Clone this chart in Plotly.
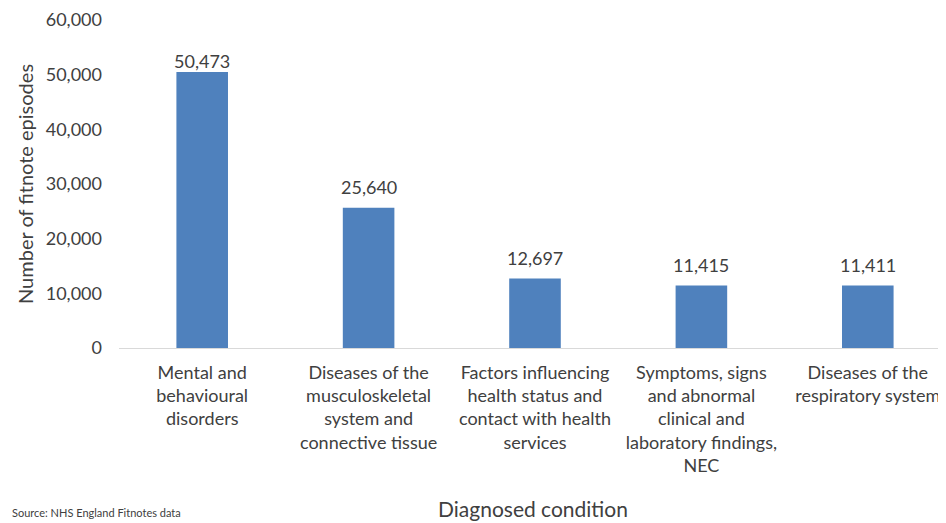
import plotly.graph_objects as go

categories = [
    "Mental and<br>behavioural<br>disorders",
    "Diseases of the<br>musculoskeletal<br>system and<br>connective tissue",
    "Factors influencing<br>health status and<br>contact with health<br>services",
    "Symptoms, signs<br>and abnormal<br>clinical and<br>laboratory findings,<br>NEC",
    "Diseases of the<br>respiratory system",
]
values = [50473, 25640, 12697, 11415, 11411]
tick_vals = [0, 10000, 20000, 30000, 40000, 50000, 60000]
tick_text = ["0", "10,000", "20,000", "30,000", "40,000", "50,000", "60,000"]
x_title = "Diagnosed condition"
y_title = "Number of fitnote episodes"
source = "Source: NHS England Fitnotes data"

FONT = "Lato"
TXT = "#404040"

# page body has an 8px margin, so the figure is offset by 8px
OFF = 8
L, R, T, B = 111, 0, 12, 175
W, H = 946 - OFF, 523 - OFF
pw, ph = W - L - R, H - T - B


def px_x(page_x):
    return (page_x - OFF - L) / pw


def px_y(page_y):
    return (T + ph - (page_y - OFF)) / ph


fig = go.Figure()
fig.add_trace(go.Bar(
    x=list(range(len(categories))),
    y=values,
    width=0.31,
    marker=dict(color="#4F81BD", line=dict(width=0)),
    hoverinfo="y",
))

annotations = [
    dict(x=i, y=v, xref="x", yref="y", text=f"{v:,}", showarrow=False,
         xanchor="center", yanchor="bottom", yshift=(-2 if i == 0 else 8),
         font=dict(family=FONT, size=18, color=TXT))
    for i, v in enumerate(values)
]
annotations += [
    dict(text=x_title, xref="paper", yref="paper",
         x=px_x(533), y=px_y(508),
         xanchor="center", yanchor="middle", showarrow=False,
         font=dict(family=FONT, size=21, color=TXT)),
    dict(text=y_title, xref="paper", yref="paper",
         x=px_x(25), y=px_y(184), textangle=-90,
         xanchor="center", yanchor="middle", showarrow=False,
         font=dict(family=FONT, size=20, color=TXT)),
    dict(text=source, xref="paper", yref="paper",
         x=px_x(10), y=px_y(513),
         xanchor="left", yanchor="middle", showarrow=False,
         font=dict(family=FONT, size=11, color=TXT)),
]

fig.update_layout(
    width=W, height=H,
    margin=dict(l=L, r=R, t=T, b=B, autoexpand=False),
    paper_bgcolor="white", plot_bgcolor="white",
    showlegend=False,
    font=dict(family=FONT, size=18, color=TXT),
    xaxis=dict(
        tickmode="array",
        tickvals=list(range(len(categories))),
        ticktext=categories,
        range=[-0.5, 4.47],
        showgrid=False, zeroline=False, automargin=False,
        showline=True, linecolor="#d9d9d9", linewidth=1,
        ticks="outside", ticklen=8, tickcolor="rgba(0,0,0,0)",
        tickfont=dict(family=FONT, size=18, color=TXT),
        tickangle=0,
    ),
    yaxis=dict(
        range=[0, 60000],
        tickmode="array", tickvals=tick_vals, ticktext=tick_text,
        showgrid=False, zeroline=False, showline=False, automargin=False,
        ticklabelstandoff=16,
        tickfont=dict(family=FONT, size=18, color=TXT),
    ),
    annotations=annotations,
)

fig.write_html("out.html")
